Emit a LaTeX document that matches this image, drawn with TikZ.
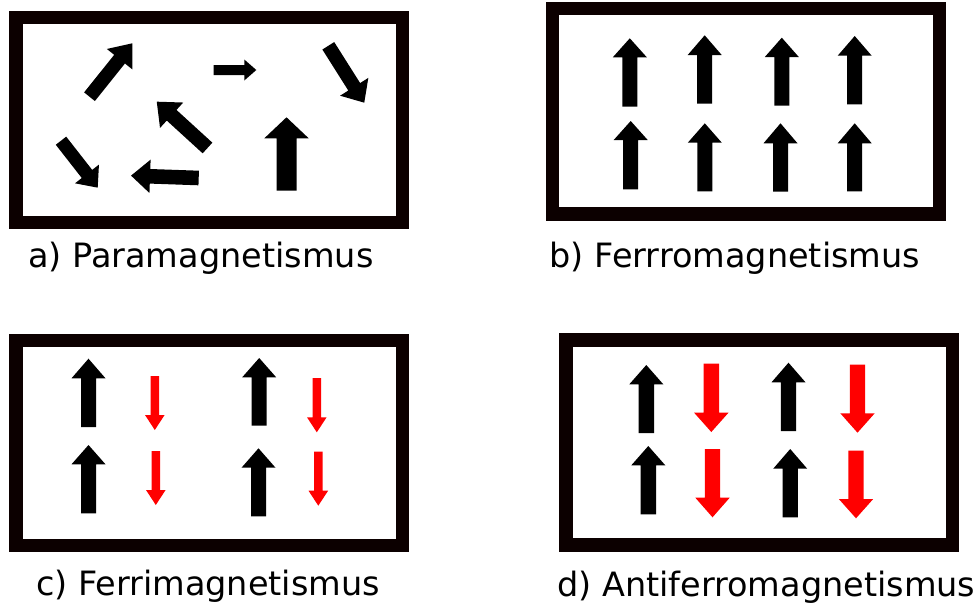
\documentclass[tikz,border=0pt]{standalone}
\usepackage{fontspec}
\setmainfont{DejaVu Sans}
\definecolor{framecol}{RGB}{12,0,0}
\definecolor{arrblack}{RGB}{0,0,0}
\definecolor{arrred}{RGB}{255,0,0}
\newcommand{\marr}[8]{%
  \fill[#1,shift={(#2,#3)},rotate=#4]
    (0,-#6) -- ({#5-#8},-#6) -- ({#5-#8},-#7) -- (#5,0) --
    ({#5-#8},#7) -- ({#5-#8},#6) -- (0,#6) -- cycle;}
\tikzset{
  frame/.style={draw=framecol,line width=13.3pt,line join=miter},
  lab/.style={anchor=base west,inner sep=0pt,font=\fontsize{33.5}{40}\selectfont}
}
\begin{document}
\begin{tikzpicture}[x=1pt,y=-1pt]
\useasboundingbox[fill=white] (0,0) rectangle (979,605);
% frames
\draw[frame] (16,17.5) rectangle (402.5,222.5);
\draw[frame] (552.7,8.7) rectangle (939.7,214);
\draw[frame] (16,340.2) rectangle (402.7,545.5);
\draw[frame] (566,340) rectangle (952.7,545);
% a) paramagnetism
\marr{arrblack}{89.5}{96.7}{51.3}{68.4}{6.9}{16.3}{20.3}
\marr{arrblack}{213.7}{70}{0}{42.6}{5}{10.5}{12}
\marr{arrblack}{328.3}{45.8}{-57.7}{67.3}{7}{16.7}{18.8}
\marr{arrblack}{207.5}{148}{137.6}{68.7}{7.2}{17.2}{20.1}
\marr{arrblack}{61}{140.7}{-52}{59.6}{6.6}{15.2}{17.4}
\marr{arrblack}{198.7}{178}{178}{67.7}{7.3}{16.7}{19}
\marr{arrblack}{286.5}{190.7}{90}{73.4}{10}{22.2}{21}
% b) ferromagnetism
\marr{arrblack}{629.8}{106.7}{90}{68.4}{7.5}{17}{19}
\marr{arrblack}{704.7}{103.7}{90}{68.4}{7.5}{17}{19.7}
\marr{arrblack}{781.8}{105.7}{90}{68}{7.5}{17}{19.3}
\marr{arrblack}{854.7}{104.3}{90}{68.3}{7.5}{17}{19.7}
\marr{arrblack}{630.7}{189.3}{90}{68.3}{7.5}{17}{19}
\marr{arrblack}{704.8}{191.3}{90}{68}{7.5}{17}{19.4}
\marr{arrblack}{780.5}{191.7}{90}{68.4}{7.5}{17}{20}
\marr{arrblack}{854.7}{191.3}{90}{68}{7.5}{17}{20}
% c) ferrimagnetism
\marr{arrblack}{88.5}{427}{90}{68.3}{7.5}{17}{19.6}
\marr{arrblack}{88.5}{513.3}{90}{68.3}{7.5}{17}{19.3}
\marr{arrblack}{259.2}{425.7}{90}{67.7}{7.5}{17}{19.3}
\marr{arrblack}{258.5}{516.3}{90}{68}{7.5}{17}{19.4}
\marr{arrred}{154.8}{376}{-90}{54}{4.2}{9.8}{15}
\marr{arrred}{155.8}{451}{-90}{54}{4.2}{9.8}{15}
\marr{arrred}{316.8}{378}{-90}{54.3}{4.2}{9.8}{15}
\marr{arrred}{318.3}{451.7}{-90}{54}{4.2}{9.8}{15}
% d) antiferromagnetism
\marr{arrblack}{646.3}{433}{90}{68}{7.7}{17}{19.3}
\marr{arrblack}{648.3}{514.3}{90}{68.3}{7.7}{17}{19.3}
\marr{arrblack}{788.5}{431}{90}{68.3}{7.7}{17}{19.6}
\marr{arrblack}{790.2}{517.3}{90}{68.3}{7.7}{17}{19.7}
\marr{arrred}{711.3}{363.7}{-90}{68.3}{7.7}{17.2}{19.3}
\marr{arrred}{712.5}{449}{-90}{68.3}{7.7}{17.2}{19.6}
\marr{arrred}{857.5}{364.7}{-90}{68}{7.7}{17.2}{19.4}
\marr{arrred}{856}{450.7}{-90}{67.6}{7.7}{17.2}{19.3}
% labels
\node[lab] (la) at (28,267.3) {a) Paramagnetismus};
\node[lab] (lb) at (549.5,267.3) {b) Ferrromagnetismus};
\node[lab] (lc) at (35.8,595.7) {c) Ferrimagnetismus};
\node[lab] (ld) at (557,596.7) {d) Antiferromagnetismus};
\end{tikzpicture}
\end{document}
